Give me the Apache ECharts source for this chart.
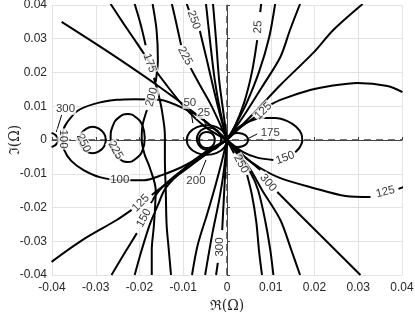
<!DOCTYPE html>
<html><head><meta charset="utf-8">
<script src="https://cdn.jsdelivr.net/npm/echarts@6/dist/echarts.min.js"></script>
<style>html,body{margin:0;padding:0;background:#fff}#c{width:415px;height:317px}</style>
</head><body><div id="c"></div>
<script>
// x/y tick values
const xTicks = [-0.04,-0.03,-0.02,-0.01,0,0.01,0.02,0.03,0.04];
const yTicks = [-0.04,-0.03,-0.02,-0.01,0,0.01,0.02,0.03,0.04];

// contour polylines [Re, Im]
const cA = [[-0.0378,0.035],[-0.0268,0.0258],[-0.0154,0.0157],[-0.0062,0.0068],[0,0]];
const cL2 = [[-0.0266,0.0403],[-0.0236,0.0344],[-0.0206,0.0287],[-0.0177,0.0231],[-0.0142,0.0169],[-0.0096,0.0095],[-0.005,0.0039],[0,0]];
const c175top = [[-0.0211,0.0403],[-0.0197,0.0341],[-0.0186,0.0281]];
const c175bot = [[-0.0167,0.0184],[-0.0158,0.0142],[-0.0149,0.0089],[-0.0142,0.0015],[-0.0142,-0.0059],[-0.014,-0.0148],[-0.0138,-0.0252],[-0.0133,-0.0326],[-0.0128,-0.04]];
const c200top = [[-0.017,0.0403],[-0.0161,0.0326],[-0.0158,0.0237],[-0.0163,0.0172]];
const c200bot = [[-0.0183,0.0089],[-0.0193,0.0044],[-0.0195,0],[-0.0188,-0.0044],[-0.0177,-0.008],[-0.0163,-0.0148],[-0.0167,-0.0252],[-0.0172,-0.0326],[-0.0172,-0.04]];
const c225top = [[-0.0126,0.0403],[-0.0115,0.0341],[-0.0105,0.0281]];
const c225bot = [[-0.0083,0.0213],[-0.0062,0.0163],[-0.0039,0.011],[-0.0018,0.0053],[0,0]];
const c250top = [[-0.0092,0.0403],[-0.0087,0.0385]];
const c250bot = [[-0.0062,0.0323],[-0.0046,0.0237],[-0.003,0.0148],[-0.0014,0.0065],[0,0]];
const cL7 = [[-0.0048,0.0403],[-0.0039,0.0296],[-0.0028,0.0178],[-0.0016,0.0089],[0,0]];
const cL8 = [[-0.0032,0.0403],[-0.0025,0.0296],[-0.0018,0.0178],[-0.0009,0.0089],[0,0]];
const c25top = [[0.0078,0.0403],[0.0076,0.0379]];
const c25bot = [[0.0069,0.0296],[0.0057,0.0201],[0.0039,0.011],[0.0018,0.0041],[0,0]];
const cR2 = [[0.011,0.0403],[0.0096,0.0302],[0.0073,0.0201],[0.0044,0.0107],[0.0018,0.0041],[0,0]];
const cR3 = [[0.0167,0.0403],[0.0144,0.0326],[0.0122,0.0246],[0.008,0.0157],[0.0041,0.0077],[0,0]];
const cR4 = [[0.031,0.0403],[0.0243,0.0326],[0.0197,0.0258],[0.0122,0.0163],[0.0064,0.0083],[0,0]];
const c125uA = [[0.0401,0.0142],[0.0367,0.016],[0.0298,0.0169],[0.0236,0.016],[0.019,0.0148],[0.0122,0.0119],[0.0099,0.0104]];
const c125uB = [[0.0064,0.0068],[0.003,0.0036],[0,0]];
const c150A = [[0,0],[0.0025,0.0036],[0.0053,0.0056],[0.008,0.0065],[0.011,0.0065],[0.0138,0.0056],[0.0158,0.0039],[0.017,0.0018],[0.0172,-0.0003],[0.0165,-0.0024],[0.0156,-0.0036]];
const c150B = [[0.0106,-0.0059],[0.0071,-0.0053],[0.0037,-0.0036],[0,0]];
const c175s = [[0.0048,0],[0.0045,0.0011],[0.0036,0.0018],[0.0024,0.0021],[0.0012,0.0018],[0.0003,0.0011],[0,0],[0.0003,-0.0011],[0.0012,-0.0018],[0.0024,-0.0021],[0.0036,-0.0018],[0.0045,-0.0011],[0.0048,0]];
const c125lA = [[0,0],[0.0037,-0.0047],[0.0076,-0.0083],[0.0122,-0.0113],[0.0197,-0.0142],[0.0271,-0.0166],[0.0328,-0.0169]];
const c125lB = [[0.0392,-0.0145],[0.0404,-0.0139]];
const cD1top = [[0,0],[0.0016,-0.0039]];
const cD1bot = [[0.0046,-0.0104],[0.0057,-0.0163],[0.0067,-0.0243],[0.0073,-0.0326],[0.008,-0.04]];
const cD2 = [[0,0],[0.003,-0.0053],[0.0053,-0.0095],[0.0071,-0.0148],[0.0087,-0.0237],[0.0099,-0.0326],[0.0106,-0.04]];
const cD3 = [[0,0],[0.003,-0.0044],[0.0057,-0.0095],[0.008,-0.0148],[0.0122,-0.0237],[0.0147,-0.0326],[0.0167,-0.04]];
const cD4top = [[0,0],[0.0041,-0.005],[0.0076,-0.0089]];
const cD4bot = [[0.0115,-0.0154],[0.0167,-0.0222],[0.0236,-0.0311],[0.0305,-0.04]];
const cB1 = [[0,0],[-0.0011,-0.0059],[-0.0028,-0.0142],[-0.0046,-0.0222],[-0.0067,-0.0311],[-0.008,-0.04]];
const cB2 = [[0,0],[-0.0007,-0.0089],[-0.0018,-0.0178],[-0.0034,-0.0281],[-0.005,-0.04]];
const c300top = [[0,0],[-0.0005,-0.0119],[-0.0011,-0.0267]];
const c300bot = [[-0.0021,-0.0364],[-0.0025,-0.04]];
const c125LA = [[-0.0401,-0.0361],[-0.033,-0.0296],[-0.0252,-0.0237],[-0.0218,-0.0207]];
const c125LB = [[-0.0172,-0.0163],[-0.0142,-0.0133],[-0.0096,-0.0089],[-0.005,-0.0044],[0,0]];
const c150LA = [[-0.0264,-0.04],[-0.0234,-0.0335],[-0.0206,-0.0276]];
const c150LB = [[-0.0174,-0.0187],[-0.0154,-0.0148],[-0.0108,-0.0095],[-0.005,-0.0044],[0,0]];
const cB135 = [[-0.0211,-0.04],[-0.0195,-0.0326],[-0.0177,-0.0252],[-0.0158,-0.0193],[-0.014,-0.0142],[-0.0096,-0.0083],[-0.005,-0.0036],[0,0]];
const c100 = [[0,0],[-0.005,0.0056],[-0.0092,0.0089],[-0.0154,0.0119],[-0.0211,0.0121],[-0.0252,0.0119],[-0.0303,0.0107],[-0.0342,0.0086],[-0.0365,0.0053],[-0.0374,0.003],[-0.0376,0],[-0.0372,-0.003],[-0.0356,-0.0062],[-0.0328,-0.0089],[-0.0291,-0.011],[-0.0245,-0.0119],[-0.0188,-0.0119],[-0.0149,-0.0104],[-0.0103,-0.008],[-0.005,-0.0041],[0,0]];
const c300L = [[-0.0401,0.0021],[-0.0392,0.0015],[-0.0385,0],[-0.0392,-0.0015],[-0.0401,-0.0021]];
const c250c = [[-0.0277,0],[-0.0281,0.0019],[-0.0292,0.0033],[-0.0307,0.0039],[-0.0322,0.0033],[-0.0333,0.0019],[-0.0337,0],[-0.0333,-0.0019],[-0.0322,-0.0033],[-0.0307,-0.0039],[-0.0292,-0.0033],[-0.0281,-0.0019],[-0.0277,0]];
const c225c = [[-0.0188,0.0006],[-0.0193,0.0042],[-0.0208,0.0067],[-0.0227,0.0077],[-0.0247,0.0067],[-0.0261,0.0042],[-0.0266,0.0006],[-0.0261,-0.003],[-0.0247,-0.0055],[-0.0227,-0.0065],[-0.0208,-0.0055],[-0.0193,-0.003],[-0.0188,0.0006]];
const cE50 = [[0,0],[-0.0006,0.0022],[-0.0023,0.0038],[-0.0046,0.0044],[-0.0069,0.0038],[-0.0086,0.0022],[-0.0092,0],[-0.0086,-0.0022],[-0.0069,-0.0038],[-0.0046,-0.0044],[-0.0023,-0.0038],[-0.0006,-0.0022],[0,0]];
const cE25 = [[-0.0013,0.0003],[-0.0017,0.002],[-0.0027,0.0032],[-0.0041,0.0036],[-0.0055,0.0032],[-0.0065,0.002],[-0.0069,0.0003],[-0.0065,-0.0014],[-0.0055,-0.0026],[-0.0041,-0.003],[-0.0027,-0.0026],[-0.0017,-0.0014],[-0.0013,0.0003]];
const cEs = [[-0.0028,0],[-0.003,0.0012],[-0.0037,0.0021],[-0.0046,0.0024],[-0.0055,0.0021],[-0.0062,0.0012],[-0.0064,0],[-0.0062,-0.0012],[-0.0055,-0.0021],[-0.0046,-0.0024],[-0.0037,-0.0021],[-0.003,-0.0012],[-0.0028,0]];

// leader lines for labels
const arrows = [
  [[-0.0378,0.0074],[-0.039,0.0024]],
  [[-0.0083,0.0089],[-0.0078,0.005]],
  [[-0.0053,0.0065],[-0.0048,0.0039]],
  [[-0.0062,-0.0104],[-0.0048,-0.0059]],
  [[0.0069,0.0018],[0.0046,0.0003]]
];

// contour labels
const labelText = ["175","200","225","250","25","125","175","150","125","250","300","300","125","150","100","100","300","250","225","50","25","200"];
const labelX = [-0.0177,-0.0172,-0.0096,-0.0076,0.0071,0.0083,0.0099,0.0133,0.0362,0.0032,0.0094,-0.0016,-0.0197,-0.019,-0.0374,-0.0245,-0.0369,-0.0328,-0.0255,-0.0085,-0.0053,-0.0071];
const labelY = [0.0228,0.0127,0.0249,0.0356,0.0335,0.0086,0.0021,-0.0053,-0.0154,-0.0071,-0.0127,-0.0317,-0.0187,-0.0231,0.0003,-0.0119,0.0092,-0.0009,-0.003,0.011,0.008,-0.0121];
const labelRot = [-70,75,-62,-70,88,45,0,20,15,-62,-50,90,45,62,-90,0,0,-65,-60,0,0,0];

const curves = [cA,cL2,c175top,c175bot,c200top,c200bot,c225top,c225bot,c250top,c250bot,cL7,cL8,
  c25top,c25bot,cR2,cR3,cR4,c125uA,c125uB,c150A,c150B,c125lA,c125lB,cD1top,cD1bot,cD2,cD3,cD4top,cD4bot,
  cB1,cB2,c300top,c300bot,c125LA,c125LB,c150LA,c150LB,cB135,c100,c300L];
const loops = [c175s,c250c,c225c,cE50,cE25,cEs];

const chart = echarts.init(document.getElementById('c'), null, {renderer:'canvas'});
const fmt = v => (Math.abs(v) < 1e-9 ? '0' : (+v.toFixed(2)).toString());
const series = [];
series.push({type:'line', data:[[0,-0.04],[0,0.04]], showSymbol:false, silent:true,
  lineStyle:{color:'#444', width:1.5, type:[7,5]}, z:1});
series.push({type:'line', data:[[-0.04,0],[0.04,0]], showSymbol:false, silent:true,
  lineStyle:{color:'#444', width:1.5, type:[7,5]}, z:1});
curves.forEach(c => series.push({type:'line', data:c, showSymbol:false, smooth:0.3, silent:true,
  lineStyle:{color:'#000', width:2}, z:2}));
loops.forEach(c => series.push({type:'line', data:c, showSymbol:false, smooth:0.5, silent:true,
  lineStyle:{color:'#000', width:2}, z:2}));
arrows.forEach(c => series.push({type:'line', data:c, showSymbol:false, silent:true,
  lineStyle:{color:'#000', width:1}, z:2}));
series.push({type:'scatter', symbolSize:1, itemStyle:{color:'rgba(0,0,0,0)'}, silent:true, z:5,
  data: labelText.map((t,i) => ({value:[labelX[i], labelY[i]],
    label:{show:true, position:'inside', formatter:t, rotate:labelRot[i]}})),
  label:{color:'#000', fontSize:11.5, fontFamily:'Liberation Sans, Arial, sans-serif',
    backgroundColor:'#fff', padding:[0,1]}});

chart.setOption({
  animation:false,
  grid:{left:52, right:13, top:5, bottom:42, outerBoundsMode:'none', containLabel:false},
  xAxis:{type:'value', min:-0.04, max:0.04, interval:0.01,
    name:'\u211C(\u03A9)', nameLocation:'middle', nameGap:24, nameMoveOverlap:false,
    nameTextStyle:{fontSize:14, color:'#262626', fontFamily:'DejaVu Serif, serif'},
    axisLine:{lineStyle:{color:'#444', width:1}},
    axisTick:{inside:true, length:3, lineStyle:{color:'#444'}},
    axisLabel:{formatter:fmt, fontSize:12, color:'#262626', fontFamily:'Liberation Sans, Arial, sans-serif', margin:7},
    splitLine:{show:true, lineStyle:{color:'#e3e3e3', width:1}}},
  yAxis:{type:'value', min:-0.04, max:0.04, interval:0.01,
    name:'\u2111(\u03A9)', nameLocation:'middle', nameGap:30, nameMoveOverlap:false,
    nameTextStyle:{fontSize:14, color:'#262626', fontFamily:'DejaVu Serif, serif'},
    axisLine:{lineStyle:{color:'#444', width:1}},
    axisTick:{inside:true, length:3, lineStyle:{color:'#444'}},
    axisLabel:{formatter:fmt, fontSize:12, color:'#262626', fontFamily:'Liberation Sans, Arial, sans-serif', margin:5},
    splitLine:{show:true, lineStyle:{color:'#e3e3e3', width:1}}},
  series: series
});
</script></body></html>
